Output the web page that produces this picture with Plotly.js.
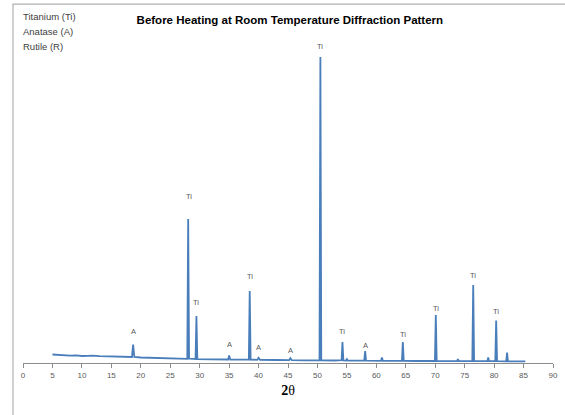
<!DOCTYPE html>
<html>
<head>
<meta charset="utf-8">
<script src="https://cdn.plot.ly/plotly-3.0.1.min.js"></script>
<style>html,body{margin:0;padding:0;background:#fff;}#chart{width:565px;height:415px;}</style>
</head>
<body>
<div id="chart"></div>
<script>
// 2-theta positions (degrees) of the diffraction trace
const twoTheta = [5, 6, 7, 8, 9, 10, 11, 11.8, 13, 15, 17, 18.5, 18.7, 18.9, 20, 22, 25, 27.9, 28.05, 28.2, 28.35, 29.3, 29.45, 29.6, 32, 34.85, 35.0, 35.2, 38.35, 38.5, 38.65, 39.8, 40.0, 40.25, 43, 45.2, 45.4, 45.65, 48, 50.35, 50.5, 50.65, 53, 54.1, 54.25, 54.4, 54.85, 55.0, 55.15, 57.95, 58.1, 58.25, 60.8, 60.95, 61.1, 64.35, 64.5, 64.65, 67, 69.95, 70.1, 70.25, 73.7, 73.85, 74.0, 76.3, 76.45, 76.6, 78.85, 79.0, 79.15, 80.2, 80.35, 80.5, 82.05, 82.2, 82.35, 84, 85.3];
// relative intensity
const intensity = [8.5, 8.0, 7.6, 7.4, 7.6, 7.0, 7.2, 7.4, 6.9, 6.3, 5.9, 6.0, 18.5, 6.0, 5.5, 5.0, 4.4, 4.2, 144, 4.4, 4.3, 4.0, 47, 3.9, 3.6, 3.5, 7.5, 3.4, 3.3, 72, 3.4, 3.2, 5.2, 3.2, 3.0, 2.8, 4.8, 2.8, 2.6, 2.6, 306, 2.6, 2.5, 2.8, 21, 2.6, 2.4, 3.8, 2.4, 2.3, 11.8, 2.3, 2.2, 5.5, 2.2, 2.1, 21, 2.1, 2.0, 2.0, 48, 2.0, 1.9, 3.8, 1.9, 1.9, 78, 1.9, 1.8, 5.5, 1.8, 1.8, 42.5, 1.8, 1.7, 10.5, 1.7, 1.6, 1.6];

// peak labels
const peakX = [18.7, 28.2, 29.45, 35.0, 38.5, 40.0, 45.4, 50.5, 54.25, 58.1, 64.5, 70.1, 76.45, 80.35];
const peakY = [18.5, 144, 47, 7.5, 72, 5.2, 4.8, 306, 21, 11.8, 21, 48, 78, 42.5];
const peakText = ["A", "Ti", "Ti", "A", "Ti", "A", "A", "Ti", "Ti", "A", "Ti", "Ti", "Ti", "Ti"];
const labelShift = [13, 23, 14, 11, 15, 10, 8, 11, 11, 6, 8, 7, 10, 9];

const xTicks = [0, 5, 10, 15, 20, 25, 30, 35, 40, 45, 50, 55, 60, 65, 70, 75, 80, 85, 90];
const legendLines = ["Titanium (Ti)", "Anatase (A)", "Rutile (R)"];
const legendPos = [1.042, 0.994, 0.949];

const annotations = peakX.map((x, i) => ({
  x: x, y: peakY[i], xref: 'x', yref: 'y', text: peakText[i], showarrow: false,
  yshift: labelShift[i], font: {family: 'Liberation Sans, Arial, sans-serif', size: 7.5, color: '#595959'}
}));
legendLines.forEach((t, i) => annotations.push({
  x: -0.004, y: legendPos[i], xref: 'paper', yref: 'paper', xanchor: 'left', yanchor: 'middle',
  text: t, showarrow: false, font: {family: 'Liberation Sans, Arial, sans-serif', size: 9.5, color: '#404040'}
}));

const trace = {
  x: twoTheta, y: intensity, type: 'scatter', mode: 'lines',
  line: {color: '#4A7EBB', width: 1.8}, hoverinfo: 'none', showlegend: false
};

const layout = {
  width: 565, height: 415,
  margin: {l: 23, r: 12, t: 30, b: 52, pad: 0},
  paper_bgcolor: '#ffffff', plot_bgcolor: '#ffffff',
  title: {
    text: '<b>Before Heating at Room Temperature Diffraction Pattern</b>',
    x: 0.513, xref: 'container', xanchor: 'center', y: 0.952, yref: 'container', yanchor: 'middle',
    font: {family: 'Liberation Sans, Arial, sans-serif', size: 11.5, color: '#000'}
  },
  xaxis: {
    range: [0, 90], tickmode: 'array', tickvals: xTicks, ticktext: xTicks.map(String),
    showgrid: false, zeroline: false, showline: true, linecolor: '#8c8c8c', linewidth: 1,
    ticks: 'outside', ticklen: 4, tickcolor: '#8c8c8c',
    tickfont: {family: 'Liberation Sans, Arial, sans-serif', size: 8, color: '#595959'},
    title: {text: '<b>2</b>θ', standoff: 6, font: {family: 'Liberation Serif, DejaVu Serif, serif', size: 14, color: '#000'}}
  },
  yaxis: {range: [0, 333], visible: false, showgrid: false, zeroline: false, fixedrange: true},
  annotations: annotations,
  shapes: [{
    type: 'rect', xref: 'paper', yref: 'paper', x0: -0.0189, x1: 1.2, y0: -0.3, y1: 1.078,
    line: {color: '#b0b0b0', width: 1.2}, fillcolor: 'rgba(0,0,0,0)', layer: 'below'
  }]
};

Plotly.newPlot('chart', [trace], layout, {displayModeBar: false, staticPlot: true});
</script>
</body>
</html>
